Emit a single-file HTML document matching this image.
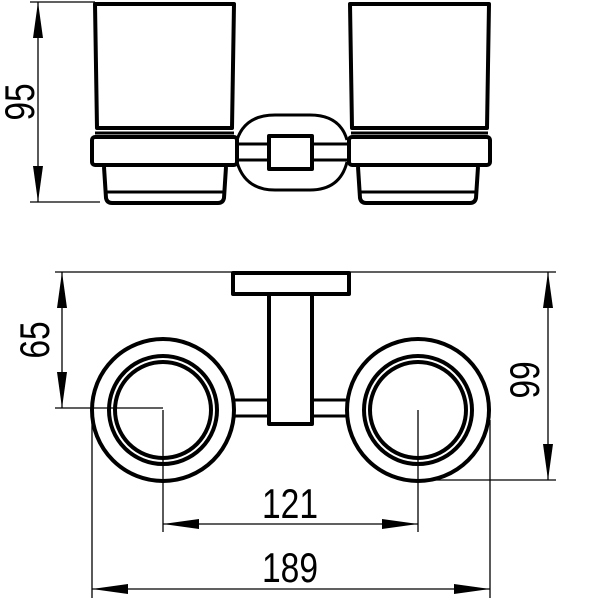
<!DOCTYPE html>
<html><head><style>body{margin:0;background:#fff}svg{display:block}text{font-family:"Liberation Sans",sans-serif;font-size:42px;fill:#000}</style></head>
<body>
<svg width="600" height="600" viewBox="0 0 600 600" xmlns="http://www.w3.org/2000/svg">
<g fill="none" stroke="#000" stroke-width="1.3">
<line x1="30" y1="2" x2="95" y2="2"/><line x1="30" y1="202" x2="100" y2="202"/>
<line x1="38" y1="2" x2="38" y2="202"/>
<line x1="55" y1="272" x2="232" y2="272"/><line x1="350" y1="272" x2="556" y2="272"/>
<line x1="55" y1="408" x2="163" y2="408"/><line x1="418" y1="480" x2="556" y2="480"/>
<line x1="62" y1="272" x2="62" y2="408"/>
<line x1="548" y1="272" x2="548" y2="480"/>
<line x1="163" y1="410" x2="163" y2="532"/><line x1="418" y1="410" x2="418" y2="532"/>
<line x1="163" y1="524" x2="418" y2="524"/>
<line x1="92" y1="420" x2="92" y2="598"/><line x1="490" y1="420" x2="490" y2="598"/>
<line x1="92" y1="589" x2="490" y2="589"/>
</g>
<g fill="#000">
<polygon points="38,2 33,38 43,38"/><polygon points="38,202 33,166 43,166"/>
<polygon points="62,272 57,308 67,308"/><polygon points="62,408 57,372 67,372"/>
<polygon points="548,272 543,308 553,308"/><polygon points="548,480 543,444 553,444"/>
<polygon points="163,524 199,519 199,529"/><polygon points="418,524 382,519 382,529"/>
<polygon points="92,589 128,584 128,594"/><polygon points="490,589 454,584 454,594"/>
</g>
<g fill="none" stroke="#000" stroke-width="4" stroke-linejoin="round">
<path d="M95 4 H234 L232 128 H97 Z"/>
<path d="M350 4 H489 L487 128 H352 Z"/>
<rect x="92" y="137" width="145" height="28" rx="3"/>
<rect x="349" y="137" width="141" height="28" rx="3"/>
<line x1="95" y1="133" x2="234" y2="133" stroke-width="3"/>
<line x1="351" y1="133" x2="488" y2="133" stroke-width="3"/>
<path d="M104 167 L106 198 Q107 203 112 203 H218 Q223 203 224 198 L226 167"/>
<path d="M358 167 L360 198 Q361 203 366 203 H470 Q475 203 476 198 L478 167"/>
<line x1="106" y1="192" x2="224" y2="192" stroke-width="3"/>
<line x1="360" y1="192" x2="476" y2="192" stroke-width="3"/>
<path d="M237 140 Q245 115 275 115 H310 Q340 115 347 140 M347 162 Q340 190 310 190 H275 Q245 190 237 162" stroke-width="3"/>
<line x1="237" y1="144" x2="347" y2="144" stroke-width="3"/>
<line x1="237" y1="160" x2="347" y2="160" stroke-width="3"/>
<rect x="269" y="136" width="43" height="33" fill="#fff"/>
<rect x="233" y="273" width="116" height="21"/>
<line x1="234" y1="400" x2="348" y2="400" stroke-width="3"/>
<line x1="234" y1="416" x2="348" y2="416" stroke-width="3"/>
<rect x="269" y="294" width="43" height="130" fill="#fff"/>
<circle cx="163" cy="410" r="71"/><circle cx="163" cy="410" r="54"/><circle cx="163" cy="410" r="48"/>
<circle cx="418" cy="410" r="71"/><circle cx="418" cy="410" r="54"/><circle cx="418" cy="410" r="48"/>
</g>
<text transform="translate(290,518) scale(0.8,1)" text-anchor="middle">121</text>
<text transform="translate(290,582) scale(0.8,1)" text-anchor="middle">189</text>
<text transform="translate(34,102) rotate(-90) scale(0.8,1)" text-anchor="middle">95</text>
<text transform="translate(49,340) rotate(-90) scale(0.8,1)" text-anchor="middle">65</text>
<text transform="translate(539,380) rotate(-90) scale(0.8,1)" text-anchor="middle">99</text>
</svg>
</body></html>
